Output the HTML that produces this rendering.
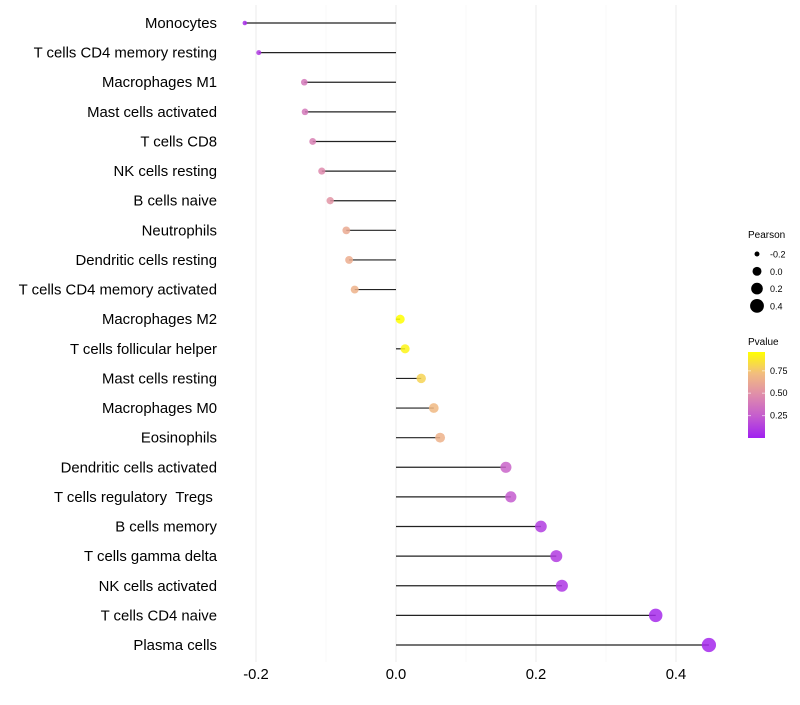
<!DOCTYPE html>
<html><head><meta charset="utf-8"><style>body{margin:0;background:#fff}svg text{font-family:"Liberation Sans",sans-serif}</style></head>
<body>
<svg id="chart" width="800" height="700"></svg>
<script>
const categories=["Monocytes","T cells CD4 memory resting","Macrophages M1","Mast cells activated","T cells CD8","NK cells resting","B cells naive","Neutrophils","Dendritic cells resting","T cells CD4 memory activated","Macrophages M2","T cells follicular helper","Mast cells resting","Macrophages M0","Eosinophils","Dendritic cells activated","T cells regulatory \u00a0Tregs\u00a0","B cells memory","T cells gamma delta","NK cells activated","T cells CD4 naive","Plasma cells"];
const pearson=[-0.216,-0.196,-0.131,-0.130,-0.119,-0.106,-0.094,-0.071,-0.067,-0.059,0.006,0.013,0.036,0.054,0.063,0.157,0.164,0.207,0.229,0.237,0.371,0.447];
const pvalue=[0.05,0.1,0.38,0.38,0.42,0.47,0.52,0.62,0.64,0.66,0.96,0.92,0.8,0.7,0.66,0.28,0.24,0.12,0.11,0.09,0.04,0.03];
const xTicks=[-0.2,0.0,0.2,0.4];
const xTickLabels=["-0.2","0.0","0.2","0.4"];
const sizeLegend=[-0.2,0.0,0.2,0.4];
const colorLegend=[0.25,0.5,0.75];
const NS="http://www.w3.org/2000/svg",svg=document.getElementById('chart');
function mk(t,a,p){const e=document.createElementNS(NS,t);for(const k in a)e.setAttribute(k,a[k]);(p||svg).appendChild(e);return e;}
const x=v=>396+v*700;
const y=i=>23+i*(622/21);
const r=v=>Math.sqrt(5+(v+0.216)/0.663*46);
const stops=[[160,32,240],[196,92,207],[223,140,171],[242,189,127],[255,255,0]];
function col(p){const t=Math.max(0,Math.min(1,p/0.96))*4;const i=Math.min(3,Math.floor(t)),f=t-i;const a=stops[i],b=stops[i+1];return `rgb(${a.map((c,k)=>Math.round(c+(b[k]-c)*f)).join(',')})`;}
[-0.1,0.1,0.3].forEach(v=>{const l=mk('line',{x1:x(v),x2:x(v),y1:5,y2:662,stroke:'#f4f4f4','stroke-width':0.6});});
xTicks.forEach((v,i)=>{const l=mk('line',{x1:x(v),x2:x(v),y1:5,y2:662,stroke:'#ebebeb','stroke-width':1});
const t=mk('text',{x:x(v),y:679,'text-anchor':'middle','font-size':14.8,fill:'#000'});t.textContent=xTickLabels[i];});
categories.forEach((c,i)=>{const t=mk('text',{x:217,y:y(i)+5,'text-anchor':'end','font-size':14.9,fill:'#000'});t.textContent=c;
const l=mk('line',{x1:x(0),x2:x(pearson[i]),y1:y(i),y2:y(i),stroke:'#222','stroke-width':1.2});
const d=mk('circle',{cx:x(pearson[i]),cy:y(i),r:r(pearson[i]),fill:col(pvalue[i]),'fill-opacity':0.85});});
let t=mk('text',{x:748,y:238,'font-size':10});t.textContent='Pearson';
sizeLegend.forEach((v,i)=>{const cy=254+i*17.3;const c=mk('circle',{cx:757,cy:cy,r:r(v),fill:'#000'});
const tt=mk('text',{x:770,y:cy+3.5,'font-size':9});tt.textContent=v.toFixed(1);});
t=mk('text',{x:748,y:345,'font-size':10});t.textContent='Pvalue';
const defs=mk('defs',{});const g=mk('linearGradient',{id:'pg',x1:0,y1:1,x2:0,y2:0},defs);
[0,0.25,0.5,0.75,1].forEach(s=>mk('stop',{offset:s,'stop-color':col(s*0.96)},g));
const bar=mk('rect',{x:748,y:352,width:17,height:86,fill:'url(#pg)'});
colorLegend.forEach(v=>{const yy=438-v/0.96*86;mk('line',{x1:748,x2:751,y1:yy,y2:yy,stroke:'#fff','stroke-opacity':0.6});mk('line',{x1:762,x2:765,y1:yy,y2:yy,stroke:'#fff','stroke-opacity':0.6});
const tt=mk('text',{x:770,y:yy+3,'font-size':9});tt.textContent=v.toFixed(2);});
</script>
</body></html>
